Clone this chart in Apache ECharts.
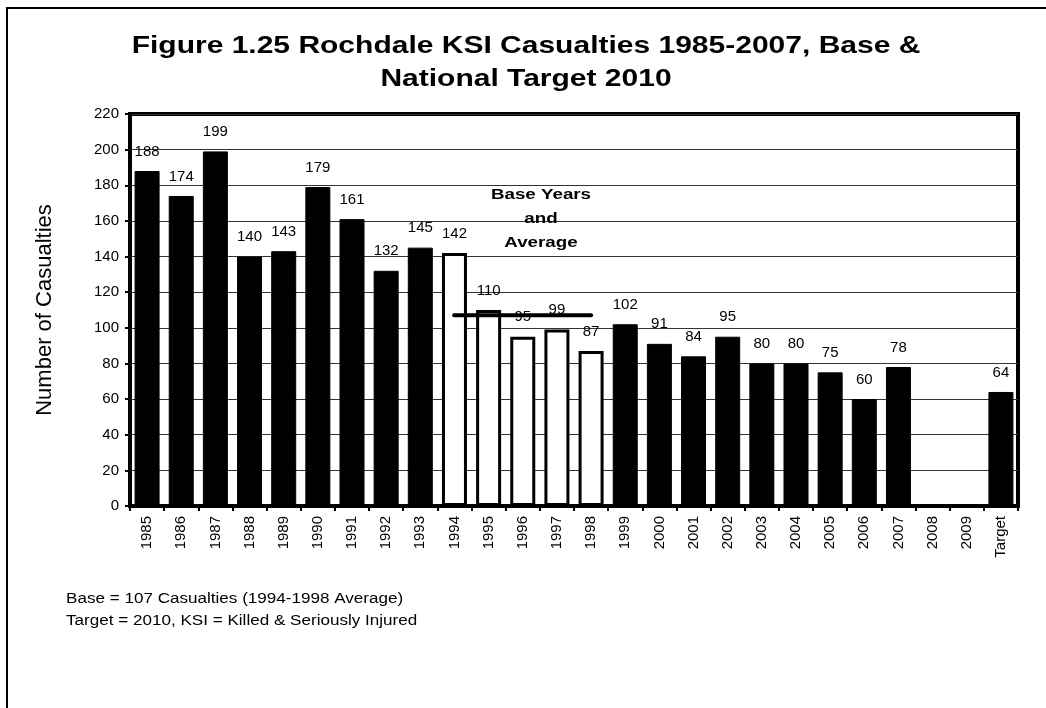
<!DOCTYPE html>
<html>
<head>
<meta charset="utf-8">
<script src="https://cdn.jsdelivr.net/npm/echarts@6/dist/echarts.min.js"></script>
<style>
  html, body { margin: 0; padding: 0; background: #fff; }
  #chart { width: 1046px; height: 708px; }
</style>
</head>
<body>
<div id="chart"></div>
<script>
// years on the x axis, plus the 2010 target column
const categories = ['1985', '1986', '1987', '1988', '1989', '1990', '1991', '1992', '1993', '1994',
  '1995', '1996', '1997', '1998', '1999', '2000', '2001', '2002', '2003', '2004',
  '2005', '2006', '2007', '2008', '2009', 'Target']
// KSI casualties per year (2008/2009 not yet available)
const casualties = [188, 174, 199, 140, 143, 179, 161, 132, 145, 142,
  110, 95, 99, 87, 102, 91, 84, 95, 80, 80,
  75, 60, 78, null, null, 64]
// base years are drawn as white bars
const baseYears = ['1994', '1995', '1996', '1997', '1998']
const baseAverage = 107
// the base line spans the base-year bars (in category units)
const baseLineSpan = [9.49, 13.5]
const yTicks = { min: 0, max: 220, interval: 20 }

const font = 'Liberation Sans, Arial, sans-serif'

const chart = echarts.init(document.getElementById('chart'))

const barData = casualties.map((v, i) => {
  const isBase = baseYears.includes(categories[i])
  return {
    value: v,
    itemStyle: isBase
      ? { color: '#fff', borderColor: '#000', borderWidth: 3 }
      : { color: '#000', borderColor: '#000', borderWidth: 1 },
  }
})

chart.setOption({
  animation: false,
  grid: {
    left: 130, right: 28, top: 114, bottom: 202,
    show: true, borderColor: '#000', borderWidth: 4, backgroundColor: '#fff',
  },
  xAxis: [
    {
      type: 'category',
      data: categories,
      axisLine: { show: true, lineStyle: { color: '#000', width: 2 } },
      axisTick: { show: true, length: 5, lineStyle: { color: '#000', width: 2 } },
      axisLabel: { rotate: 90, fontFamily: font, fontSize: 15, color: '#000', margin: 10 },
    },
    {
      type: 'value', min: 0, max: categories.length, show: false,
    },
  ],
  yAxis: {
    type: 'value',
    ...yTicks,
    name: 'Number of Casualties',
    nameLocation: 'middle',
    nameGap: 74,
    nameTextStyle: { fontFamily: font, fontSize: 22, color: '#000' },
    axisLine: { show: true, lineStyle: { color: '#000', width: 2 } },
    axisTick: { show: true, length: 5, lineStyle: { color: '#000', width: 2 } },
    axisLabel: { fontFamily: font, fontSize: 15, color: '#000', margin: 11 },
    splitLine: { lineStyle: { color: '#333', width: 1 } },
  },
  series: [
    {
      type: 'bar',
      data: barData,
      barWidth: 25,
      label: {
        show: true, position: 'top', distance: 12,
        fontFamily: font, fontSize: 15, color: '#000',
      },
    },
    {
      type: 'line',
      xAxisIndex: 1,
      data: baseLineSpan.map(x => [x, baseAverage]),
      symbol: 'none',
      lineStyle: { color: '#000', width: 4, cap: 'round' },
      z: 5,
    },
  ],
  graphic: [
    {
      type: 'rect',
      shape: { x: 7, y: 8, width: 1200, height: 900 },
      style: { fill: 'none', stroke: '#000', lineWidth: 2 },
      silent: true,
    },
    {
      // chart title, stretched a little like the original
      type: 'text',
      x: 526, y: 63, scaleX: 1.25,
      style: {
        text: 'Figure 1.25 Rochdale KSI Casualties 1985-2007, Base &\nNational Target 2010',
        fontFamily: font, fontSize: 24, fontWeight: 'bold', fill: '#000',
        align: 'center', verticalAlign: 'middle', lineHeight: 33,
      },
    },
    {
      type: 'text',
      x: 541, y: 219, scaleX: 1.25,
      style: {
        text: 'Base Years\nand\nAverage',
        fontFamily: font, fontSize: 15, fontWeight: 'bold', fill: '#000',
        align: 'center', verticalAlign: 'middle', lineHeight: 24,
      },
      z: 10,
    },
    {
      type: 'text',
      x: 66, y: 610, scaleX: 1.22,
      style: {
        text: 'Base = 107 Casualties (1994-1998 Average)\nTarget = 2010, KSI = Killed & Seriously Injured',
        fontFamily: font, fontSize: 14, fill: '#000',
        align: 'left', verticalAlign: 'middle', lineHeight: 22,
      },
    },
  ],
})
</script>
</body>
</html>
